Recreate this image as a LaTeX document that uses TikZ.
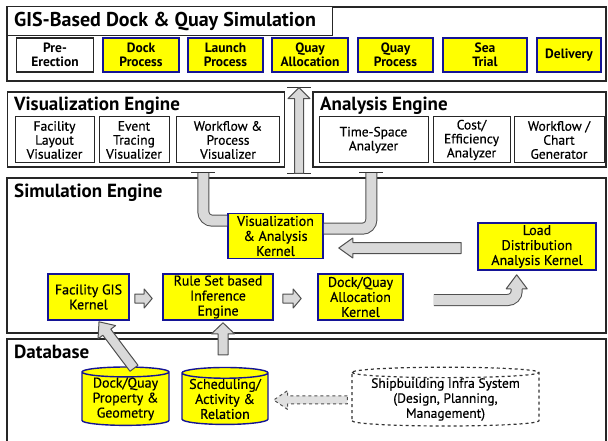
\documentclass[tikz,border=0pt]{standalone}
\usepackage{fontspec}
\setmainfont{PT Sans}
\newfontfamily\medium{PT Sans}[FakeBold=0.5]
\usetikzlibrary{calc,shapes.geometric}

\definecolor{kyellow}{RGB}{255,255,0}
\definecolor{kblue}{RGB}{20,20,150}
\definecolor{arrfill}{RGB}{217,217,217}
\definecolor{arrline}{RGB}{80,80,80}

% block arrow: [options]{from}{to}{shaft half width}{head half width}{head length}
\newcommand{\blockarrow}[6][]{%
  \draw[blockarr,#1] let \p1=(#2), \p2=(#3),
      \n1={veclen(\x2-\x1,\y2-\y1)}, \n2={atan2(\y2-\y1,\x2-\x1)} in
    {[shift={(\p1)},rotate=\n2]
      (0pt,-#4pt) -- (\n1-#6pt,-#4pt) -- (\n1-#6pt,-#5pt) -- (\n1,0pt)
      -- (\n1-#6pt,#5pt) -- (\n1-#6pt,#4pt) -- (0pt,#4pt) -- cycle};}
% open-backed head that caps a pipe
\newcommand{\pipehead}[5]{%
  \filldraw[blockarr] let \p1=(#1), \p2=(#2),
      \n1={veclen(\x2-\x1,\y2-\y1)}, \n2={atan2(\y2-\y1,\x2-\x1)} in
    {[shift={(\p1)},rotate=\n2]
      (0pt,-#3pt) -- (0pt,-#4pt) -- (\n1,0pt) -- (0pt,#4pt) -- (0pt,#3pt)};}

\begin{document}
\begin{tikzpicture}[x=1pt,y=-1pt,
    panel/.style={draw=black!85,line width=1.3pt,fill=white,inner sep=0pt},
    ptitle/.style={anchor=west,inner sep=0pt,font=\fontsize{19}{21}\selectfont\bfseries},
    proc/.style={draw=kblue,fill=kyellow,line width=1.6pt,inner sep=0pt,align=center,
      minimum height=34pt,font=\fontsize{13.5}{13.5}\selectfont\bfseries},
    viewer/.style={draw=black!85,line width=1pt,fill=white,inner sep=0pt,align=center,
      minimum height=46pt,font=\medium\fontsize{13.5}{14}\selectfont},
    kernel/.style={draw=kblue,fill=kyellow,line width=1.6pt,inner sep=0pt,align=center,
      font=\medium\fontsize{14}{15}\selectfont},
    store/.style={cylinder,shape border rotate=90,aspect=0.15,draw=kblue,fill=kyellow,
      line width=1.4pt,inner sep=0pt,align=center,font=\medium\fontsize{14}{15}\selectfont},
    blockarr/.style={draw=arrline,fill=arrfill,line width=1pt,line join=round},
    pipe/.style={draw=arrline,line width=12pt,rounded corners=9pt,
      postaction={draw=arrfill,line width=10pt}},
    tick/.style={draw=black!80,line width=1pt}]
  \useasboundingbox (0,0) rectangle (608,441);

  % layers
  \path
    (306.5,44) node[panel,minimum width=599pt,minimum height=74pt] (gispanel){}
    (169.5,21.5) node[panel,line width=1pt,minimum width=325pt,minimum height=29pt] (gishead){}
    (146,129.5) node[panel,minimum width=277pt,minimum height=75pt] (vispanel){}
    (459.5,129.5) node[panel,minimum width=293pt,minimum height=75pt] (anapanel){}
    (306.5,255.5) node[panel,minimum width=599pt,minimum height=155pt] (sepanel){}
    (306.5,393.5) node[panel,minimum width=599pt,minimum height=109pt] (dbpanel){};
  \path
    (14,21.5) node[ptitle,font=\fontsize{20}{22}\selectfont\bfseries] (gistitle){GIS-Based Dock \& Quay Simulation}
    (14,106) node[ptitle] (vistitle){Visualization Engine}
    (320,106) node[ptitle] (anatitle){Analysis Engine}
    (14,193) node[ptitle] (setitle){Simulation Engine}
    (14,352) node[ptitle] (dbtitle){Database};

  % process steps
  \path
    (55,55) node[proc,fill=white,draw=black!85,minimum width=77pt] (pre){Pre-\\Erection}
    (141,55) node[proc,minimum width=76pt] (dock){Dock\\Process}
    (225.5,55) node[proc,minimum width=75pt] (launch){Launch\\Process}
    (310,55) node[proc,minimum width=76pt] (qalloc){Quay\\Allocation}
    (395.5,55) node[proc,minimum width=75pt] (qproc){Quay\\Process}
    (485,55) node[proc,minimum width=84pt] (sea){Sea\\Trial}
    (569,55) node[proc,minimum width=64pt] (delivery){Delivery};

  % visualizers and analyzers
  \path
    (54.5,140) node[viewer,minimum width=79pt] (layoutvis){Facility\\Layout\\Visualizer}
    (134,140) node[viewer,minimum width=70pt] (eventvis){Event\\Tracing\\Visualizer}
    (228,140) node[viewer,minimum width=103pt] (flowvis){Workflow \&\\Process\\Visualizer}
    (373.5,140) node[viewer,minimum width=109pt] (tsana){Time-Space\\Analyzer}
    (471.5,140) node[viewer,minimum width=77pt] (costana){Cost/\\Efficiency\\Analyzer}
    (559,140) node[viewer,minimum width=90pt] (chartgen){Workflow /\\Chart\\Generator};

  % kernels
  \path
    (275.5,236) node[kernel,minimum width=95pt,minimum height=45pt] (va){Visualization\\\& Analysis\\Kernel}
    (537,246.5) node[kernel,minimum width=118pt,minimum height=47pt] (load){Load\\Distribution\\Analysis Kernel}
    (88.5,297) node[kernel,minimum width=81pt,minimum height=46pt] (gis){Facility GIS\\Kernel}
    (218,297) node[kernel,minimum width=110pt,minimum height=46pt] (rule){Rule Set based\\Inference\\Engine}
    (360.5,297) node[kernel,minimum width=85pt,minimum height=46pt] (dq){Dock/Quay\\Allocation\\Kernel};

  % data stores
  \path
    (125.5,399) node[store,minimum width=87pt,minimum height=50pt] (dqstore){Dock/Quay\\Property \&\\Geometry}
    (225,399) node[store,minimum width=86pt,minimum height=50pt] (schedstore){Scheduling/\\Activity \&\\Relation}
    (445.5,399.5) node[store,aspect=0.07,dashed,fill=white,draw=black!80,line width=1.2pt,minimum width=187pt,
      minimum height=50pt,font=\medium\fontsize{13.5}{15}\selectfont] (infra){Shipbuilding Infra System\\(Design, Planning,\\Management)};

  \coordinate (vtap) at ($(vispanel.south west)+(196.5,5)$);
  \coordinate (atap) at ($(anapanel.south west)+(59,5)$);
  \coordinate (uptail) at ($(sepanel.north)+(-7.5,-4)$);
  \coordinate (uptip) at ($(gispanel.south)+(-7.5,6)$);
  \coordinate (ldbase) at ($(load.south west)+(39.5,18)$);

  % pipes between engines and kernel
  \draw[pipe] (vtap) |- ($(va.north west)+(0,8)$);
  \draw[pipe] ($(va.north east)+(0,16)$) -| (atap);
  \draw[pipe] ($(dq.east)+(30,3)$) -| (ldbase);
  \pipehead{ldbase}{$(ldbase |- load.south)+(0,4)$}{5.5}{10.5}{14}
  \foreach \t in {vtap,atap,uptail,uptip}
    \draw[tick] ($(\t)+(-12,0)$) -- ($(\t)+(12,0)$);

  % block arrows
  \blockarrow{uptail}{uptip}{4.5}{11}{11}
  \blockarrow{$(gis.east)+(5,1.5)$}{$(rule.west)+(-10,1.5)$}{4.5}{9.5}{8}
  \blockarrow{$(rule.east)+(9,1.5)$}{$(dq.west)+(-16,1.5)$}{4.5}{9.5}{8}
  \blockarrow{$(load.west)+(-16,1.5)$}{$(va.east |- load.west)+(15,1.5)$}{5.5}{10}{14}
  \blockarrow{$(dqstore.north)+(8.5,2)$}{$(gis.south)+(10.5,1)$}{5}{11}{13}
  \blockarrow{$(schedstore.north)+(-2,-12)$}{$(rule.south)+(5,2)$}{5}{11.5}{11}
  \blockarrow[dashed,fill=black!12]{$(infra.west)+(-4,0.5)$}{$(schedstore.east)+(5,1)$}{4}{9.5}{14}
\end{tikzpicture}
\end{document}
